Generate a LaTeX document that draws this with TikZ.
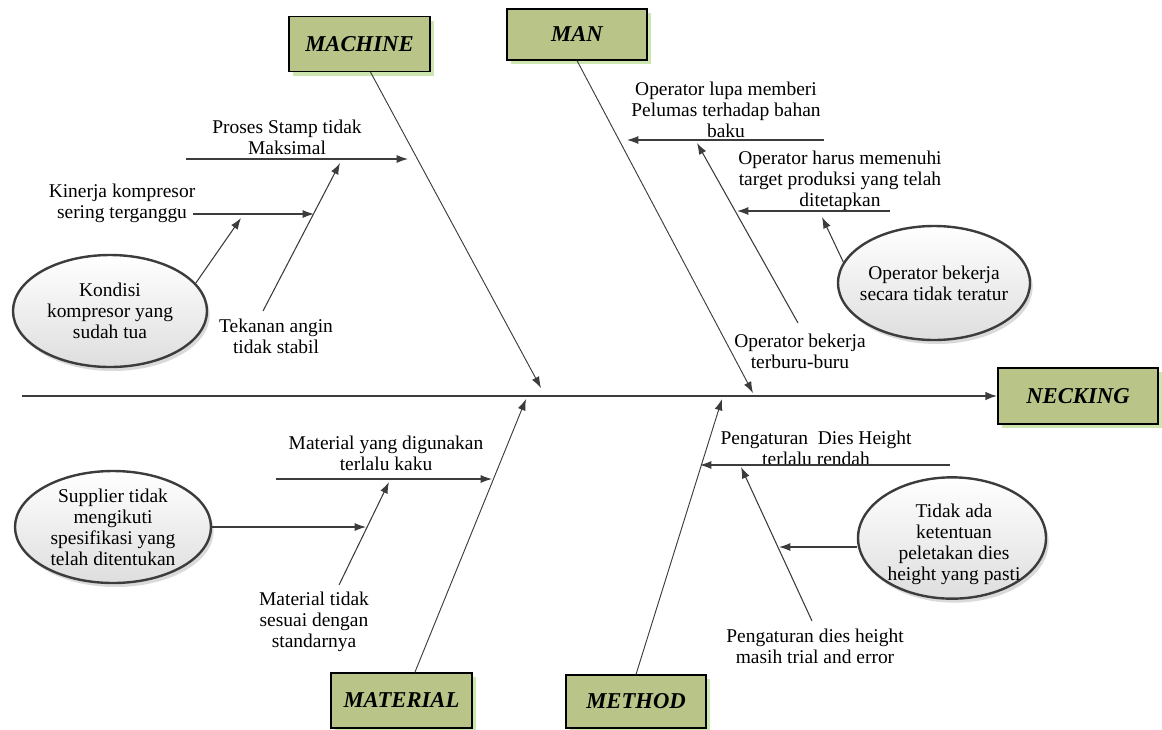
\documentclass[tikz,border=0pt]{standalone}
\usepackage{fontspec}
\setmainfont{Liberation Serif}
\usetikzlibrary{arrows.meta,shapes.geometric,shadows}
\definecolor{boxfill}{RGB}{184,196,136}
\definecolor{boxshadow}{RGB}{205,230,175}
\definecolor{linecol}{RGB}{60,60,60}
\definecolor{ellshadow}{RGB}{218,218,218}
\begin{document}
\begin{tikzpicture}[x=0.75pt,y=-0.75pt,
  cat/.style={draw=black, line width=0.9pt, fill=boxfill, minimum width=105.75pt, minimum height=41.25pt, inner sep=0pt,
    font=\fontsize{17}{20}\selectfont\bfseries\itshape,
    drop shadow={shadow xshift=3pt, shadow yshift=-3pt, fill=boxshadow, opacity=1}},
  lbl/.style={align=center, inner sep=0pt, font=\fontsize{14.6}{15.75}\selectfont},
  cause/.style={ellipse, draw=linecol, line width=1.8pt, top color=white, bottom color=black!13, inner sep=0pt,
    drop shadow={shadow xshift=2pt, shadow yshift=-3pt, fill=ellshadow, opacity=1}},
  arr/.style={draw=linecol, line width=0.8pt, -{Latex[length=8.5pt,width=6pt]}},
  bone/.style={draw=linecol, line width=0.7pt, -{Latex[length=8.5pt,width=6pt]}},
  spine/.style={draw=linecol, line width=1.6pt, -{Latex[length=9pt,width=6.5pt]}}
]
\useasboundingbox (0,0) rectangle (1162,729);

% category boxes
\node[cat] (machine) at (359.5,44) {MACHINE};
\node[cat, minimum width=105pt, minimum height=38.25pt] (man) at (577,34.5) {MAN};
\node[cat, minimum width=120pt, minimum height=42pt] (necking) at (1078,396) {NECKING};
\node[cat] (material) at (401.5,700.5) {MATERIAL};
\node[cat, minimum width=105pt, minimum height=39.75pt] (method) at (636,701.5) {METHOD};

% spine
\coordinate (tail) at (22,396);
\draw[spine] (tail) -- (necking.west);

% coordinates
\coordinate (mcA) at (541,388);
\coordinate (p1s) at (186,159); \coordinate (p1e) at (408,159);
\coordinate (tkS) at (263,311); \coordinate (tkE) at (340,163);
\coordinate (knS) at (193,214); \coordinate (knE) at (314,214);
\coordinate (kdE) at (241,218);

\coordinate (mnA) at (753,393);
\coordinate (lpS) at (824,140); \coordinate (lpE) at (627,140);
\coordinate (hrS) at (890,211); \coordinate (hrE) at (737,211);
\coordinate (tbS) at (798,323); \coordinate (tbE) at (697,143);
\coordinate (otE) at (822,217);

\coordinate (mtA) at (526,399);
\coordinate (kkS) at (276,479); \coordinate (kkE) at (492,479);
\coordinate (sdS) at (339,585); \coordinate (sdE) at (389,482);
\coordinate (spE) at (366,527);

\coordinate (mdA) at (722,399);
\coordinate (rdS) at (950,465); \coordinate (rdE) at (700,465);
\coordinate (trS) at (812,621); \coordinate (trE) at (741,467);
\coordinate (tdE) at (779,547);

% cause ellipses
\node[cause, minimum width=145.5pt, minimum height=84pt] (kondisi) at (110,311) {};
\node[lbl] (kondisiT) at (kondisi) {Kondisi\\kompresor yang\\sudah tua};
\node[cause, minimum width=144pt, minimum height=85.5pt] (opt) at (934,283) {};
\node[lbl] (optT) at (opt) {Operator bekerja\\secara tidak teratur};
\node[cause, minimum width=147pt, minimum height=84pt] (supplier) at (113,527) {};
\node[lbl] (supplierT) at (supplier) {Supplier tidak\\mengikuti\\spesifikasi yang\\telah ditentukan};
\node[cause, minimum width=141pt, minimum height=91pt] (tidak) at (952,538) {};
\node[lbl] (tidakT) at (954,544) {Tidak ada\\ketentuan\\peletakan dies\\height yang pasti};

% labels
\node[lbl] (proses) at (287,137) {Proses Stamp tidak\\Maksimal};
\node[lbl] (kinerja) at (122,203) {Kinerja kompresor\\sering terganggu};
\node[lbl] (tekanan) at (276,336) {Tekanan angin\\tidak stabil};
\node[lbl] (lupa) at (726,110) {Operator lupa memberi\\Pelumas terhadap bahan\\baku};
\node[lbl] (harus) at (840,181) {Operator harus memenuhi\\target produksi yang telah\\ditetapkan};
\node[lbl] (terburu) at (800,351) {Operator bekerja\\terburu-buru};
\node[lbl] (kaku) at (386,453) {Material yang digunakan\\terlalu kaku};
\node[lbl] (standar) at (314,622) {Material tidak\\sesuai dengan\\standarnya};
\node[lbl] (rendah) at (816,448) {Pengaturan\ \ Dies Height\\terlalu rendah};
\node[lbl] (trial) at (815,646) {Pengaturan dies height\\masih trial and error};

% bones
\draw[bone] ([xshift=8.25pt]machine.south) -- (mcA);
\draw[bone] (man.south) -- (mnA);
\draw[bone] ([xshift=10pt]material.north) -- (mtA);
\draw[bone] (method.north) -- (mdA);

% machine causes
\draw[arr] (p1s) -- (p1e);
\draw[arr] (tkS) -- (tkE);
\draw[arr] (knS) -- (knE);
\draw[arr] (kondisi.18) -- (kdE);

% man causes
\draw[arr] (lpS) -- (lpE);
\draw[arr] (hrS) -- (hrE);
\draw[arr] (tbS) -- (tbE);
\draw[arr] (opt.167) -- (otE);

% material causes
\draw[arr] (kkS) -- (kkE);
\draw[arr] (sdS) -- (sdE);
\draw[arr] (supplier.east) -- (spE);

% method causes
\draw[arr] (rdS) -- (rdE);
\draw[arr] (trS) -- (trE);
\draw[arr] (tidak.west |- tdE) -- (tdE);
\end{tikzpicture}
\end{document}
